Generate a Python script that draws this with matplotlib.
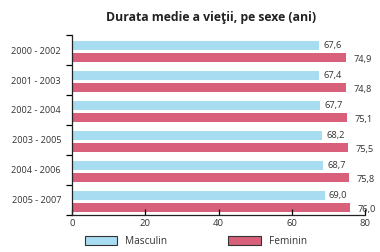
import matplotlib.pyplot as plt
from matplotlib.patches import Patch

plt.rcParams["font.family"] = ["Open Sans", "DejaVu Sans"]

# data
periods = ["2000 - 2002", "2001 - 2003", "2002 - 2004",
           "2003 - 2005", "2004 - 2006", "2005 - 2007"]
masculin = [67.6, 67.4, 67.7, 68.2, 68.7, 69.0]
feminin = [74.9, 74.8, 75.1, 75.5, 75.8, 76.0]
x_ticks = [0, 20, 40, 60, 80]

blue = "#a8dcf0"
red = "#d8607a"
txt = "#333333"

fig = plt.figure(figsize=(3.8, 2.52), dpi=100)
ax = fig.add_axes([0.19, 0.147, 0.77, 0.714])

ys = list(range(len(periods)))
y_m = [y - 0.155 for y in ys]
y_f = [y + 0.245 for y in ys]
ax.barh(y_m, masculin, height=0.31, color=blue)
ax.barh(y_f, feminin, height=0.31, color=red)

for y, v in zip(y_m, masculin):
    ax.text(v + 1.2, y, f"{v:.1f}".replace(".", ","), fontsize=6.7,
            color=txt, va="center", ha="left")
for y, v in zip(y_f, feminin):
    ax.text(v + 2.0, y + 0.08, f"{v:.1f}".replace(".", ","), fontsize=6.7,
            color=txt, va="center", ha="left")

ax.set_xlim(0, 80)
ax.set_ylim(5.5, -0.5)
ax.set_xticks(x_ticks)
ax.set_xticklabels([str(t) for t in x_ticks])
ax.set_yticks(ys)
ax.set_yticklabels(periods)
ax.set_yticks([y - 0.5 for y in ys] + [5.5], minor=True)
ax.tick_params(axis="y", which="major", length=0, labelsize=6.6,
               labelcolor=txt, pad=8)
ax.tick_params(axis="y", which="minor", length=4, width=0.9, direction="out")
ax.tick_params(axis="x", length=4, width=0.9, direction="in",
               labelsize=6.8, labelcolor=txt, pad=3)

for s in ["top", "right"]:
    ax.spines[s].set_visible(False)
for s in ["left", "bottom"]:
    ax.spines[s].set_linewidth(0.9)
    ax.spines[s].set_color("#222222")

fig.text(0.556, 0.93, "Durata medie a vieţii, pe sexe (ani)", ha="center",
         va="center", fontsize=8.8, fontweight="bold", color="#222222")

handles = [Patch(facecolor=blue, edgecolor="#333333", linewidth=0.8, label="Masculin"),
           Patch(facecolor=red, edgecolor="#333333", linewidth=0.8, label="Feminin")]
fig.legend(handles=handles, loc="center", bbox_to_anchor=(0.515, 0.04), ncol=2,
           frameon=False, fontsize=7.3, handlelength=3.2, handleheight=1.0,
           columnspacing=6.0, handletextpad=0.8, labelcolor=txt)

fig.savefig("out.png", dpi=100)
